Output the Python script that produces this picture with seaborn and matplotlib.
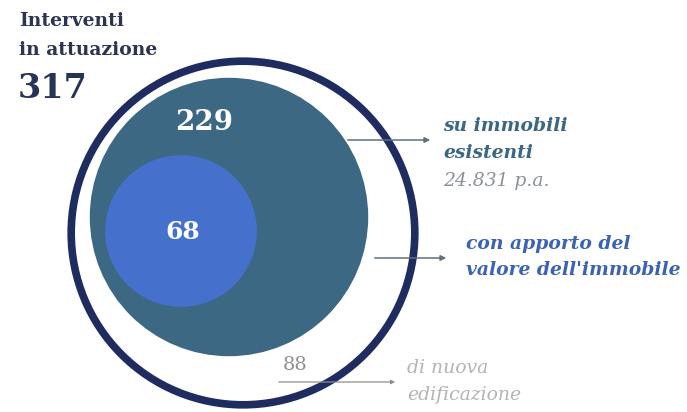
import numpy as np
import seaborn as sns
import matplotlib.pyplot as plt
from matplotlib.patches import Circle

# values
total = 317
existing = 229
with_property = 68
new_build = 88
existing_cost = '24.831 p.a.'

title_lines = ['Interventi', 'in attuazione']
existing_label = ['su immobili', 'esistenti']
property_label = ['con apporto del', "valore dell'immobile"]
new_label = ['di nuova', 'edificazione']

NAVY = '#1e2c5f'
TEAL = '#3d6884'
BLUE = '#4571cd'
SERIF = 'DejaVu Serif'


def main():
    sns.set_theme(style='white')
    plt.rcParams['font.family'] = [SERIF]
    fig = plt.figure(figsize=(6.87, 4.12), dpi=100)
    ax = fig.add_axes([0, 0, 1, 1])
    ax.set_xlim(0, 687)
    ax.set_ylim(412, 0)
    ax.set_aspect('equal')
    ax.axis('off')

    # area proportional to the value
    k = 9.2
    r_mid = k * np.sqrt(existing)
    r_in = k * np.sqrt(with_property)
    r_out = k * np.sqrt(total) + 8

    ax.add_patch(Circle((243, 233), r_out, fill=False, ec=NAVY, lw=5.5))
    ax.add_patch(Circle((229, 217), r_mid, color=TEAL, lw=0))
    ax.add_patch(Circle((181, 231), r_in, color=BLUE, lw=0))

    ax.text(204, 122, str(existing), color='white', fontsize=20,
            fontweight='bold', ha='center', va='center')
    ax.text(183, 232, str(with_property), color='white', fontsize=18,
            fontweight='bold', ha='center', va='center')

    # header
    ax.text(19, 21, title_lines[0], color='#2b3552', fontsize=13.5,
            fontweight='bold', va='center')
    ax.text(19, 50, title_lines[1], color='#2b3552', fontsize=13.5,
            fontweight='bold', va='center')
    ax.text(18, 88, str(total), color='#263456', fontsize=24,
            fontweight='bold', va='center')

    arrow = dict(arrowstyle='-|>', color='#5f6f7c', lw=1.1,
                 mutation_scale=8)
    fs = 13.5

    # existing buildings
    ax.annotate('', xy=(433, 140), xytext=(345, 140), arrowprops=arrow)
    ax.text(443, 126, existing_label[0], color='#3a6783', fontsize=fs,
            fontweight='bold', style='italic', va='center')
    ax.text(443, 153, existing_label[1], color='#3a6783', fontsize=fs,
            fontweight='bold', style='italic', va='center')
    ax.text(443, 181, existing_cost, color='#8a9299', fontsize=fs,
            style='italic', va='center')

    # with property value
    ax.annotate('', xy=(449, 258), xytext=(372, 258), arrowprops=arrow)
    ax.text(466, 244, property_label[0], color='#3c63b1', fontsize=fs,
            fontweight='bold', style='italic', va='center')
    ax.text(466, 270, property_label[1], color='#3c63b1', fontsize=fs,
            fontweight='bold', style='italic', va='center')

    # new construction
    ax.text(295, 365, str(new_build), color='#8e8e8e', fontsize=14,
            ha='center', va='center')
    ax.annotate('', xy=(398, 382), xytext=(276, 382),
                arrowprops=dict(arrowstyle='-|>', color='#8e8e8e', lw=0.9,
                                mutation_scale=6))
    ax.text(407, 368, new_label[0], color='#b4b4b4', fontsize=fs,
            style='italic', va='center')
    ax.text(407, 395, new_label[1], color='#b4b4b4', fontsize=fs,
            style='italic', va='center')

    fig.savefig('out.png', dpi=100)


if __name__ == '__main__':
    main()
